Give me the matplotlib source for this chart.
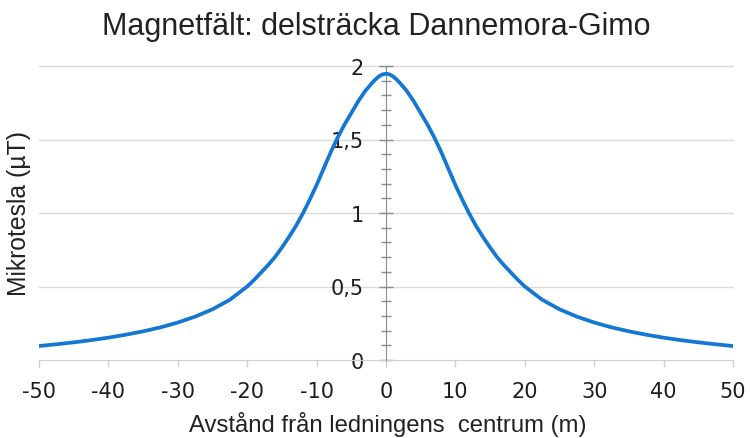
import matplotlib
matplotlib.use("Agg")
import matplotlib.pyplot as plt
from matplotlib.ticker import MultipleLocator, FuncFormatter

# Data (distance from line centre, field in µT)
distance_m = [-50, -47.5, -45, -42.5, -40, -37.5, -35, -32.5, -30, -27.5, -25, -22.5,
              -20, -19, -18, -17, -16, -15, -14, -13, -12, -11, -10, -9, -8, -7,
              -6, -5, -4, -3, -2, -1.5, -1, -0.5, 0,
              0.5, 1, 1.5, 2, 3, 4, 5, 6, 7, 8, 9, 10, 11, 12, 13, 14, 15, 16, 17, 18, 19,
              20, 22.5, 25, 27.5, 30, 32.5, 35, 37.5, 40, 42.5, 45, 47.5, 50]
field_uT = [0.095, 0.107, 0.12, 0.135, 0.152, 0.172, 0.195, 0.222, 0.255, 0.295, 0.345, 0.41,
            0.50, 0.545, 0.595, 0.645, 0.70, 0.765, 0.835, 0.91, 0.995, 1.09, 1.19, 1.30, 1.41, 1.51,
            1.60, 1.68, 1.76, 1.83, 1.885, 1.91, 1.93, 1.943, 1.948,
            1.943, 1.93, 1.91, 1.885, 1.83, 1.76, 1.68, 1.60, 1.51, 1.41, 1.30, 1.19, 1.09,
            0.995, 0.91, 0.835, 0.765, 0.70, 0.645, 0.595, 0.545,
            0.50, 0.41, 0.345, 0.295, 0.255, 0.222, 0.195, 0.172, 0.152, 0.135, 0.12, 0.107, 0.095]
x_ticks = [-50, -40, -30, -20, -10, 0, 10, 20, 30, 40, 50]
y_ticks = [0, 0.5, 1, 1.5, 2]
title = "Magnetfält: delsträcka Dannemora-Gimo"
xlabel = "Avstånd från ledningens  centrum (m)"
ylabel = "Mikrotesla (µT)"

fig = plt.figure(figsize=(7.5, 4.39), dpi=100)
ax = fig.add_axes([39/750, 1-361/439, 694/750, 294/439])

ax.plot(distance_m, field_uT, color="#1477d2", lw=2.7, solid_capstyle="round",
        solid_joinstyle="round", zorder=5)

ax.set_xlim(-50, 50)
ax.set_ylim(0, 2)

for y in y_ticks[1:]:
    ax.axhline(y, color="#dadada", lw=1.0, zorder=1, clip_on=False)

for s in ["top", "right"]:
    ax.spines[s].set_visible(False)
ax.spines["left"].set_position(("data", 0))
ax.spines["left"].set_color("#8c8c8c")
ax.spines["bottom"].set_color("#cfcfcf")
ax.spines["left"].set_zorder(3)

ax.set_xticks(x_ticks)
ax.set_yticks(y_ticks)
ax.yaxis.set_minor_locator(MultipleLocator(0.1))
ax.yaxis.set_major_formatter(FuncFormatter(lambda v, p: f"{v:g}".replace(".", ",")))
ax.xaxis.set_major_formatter(FuncFormatter(lambda v, p: f"{v:g}"))

ax.tick_params(axis="y", which="major", direction="inout", length=9.5, color="#8c8c8c",
               width=1, labelsize=15, pad=11, labelcolor="#1e1e1e")
ax.tick_params(axis="y", which="minor", direction="inout", length=7, color="#8c8c8c", width=1)
ax.tick_params(axis="x", which="major", direction="out", length=5, color="#cfcfcf",
               width=1, labelsize=15, pad=10, labelcolor="#1e1e1e")

fig.text(0.501, 1-12/439, title, fontsize=22, family="Liberation Sans",
         color="#222222", ha="center", va="top")
fig.text(388/750, 1-425/439, xlabel, fontsize=17.2, family="Liberation Sans",
         color="#222222", ha="center", va="center")
fig.text(19/750, 1-214/439, ylabel, rotation=90, fontsize=17.8, family="Liberation Sans",
         color="#222222", ha="center", va="center")

fig.savefig("out.png", dpi=100)
